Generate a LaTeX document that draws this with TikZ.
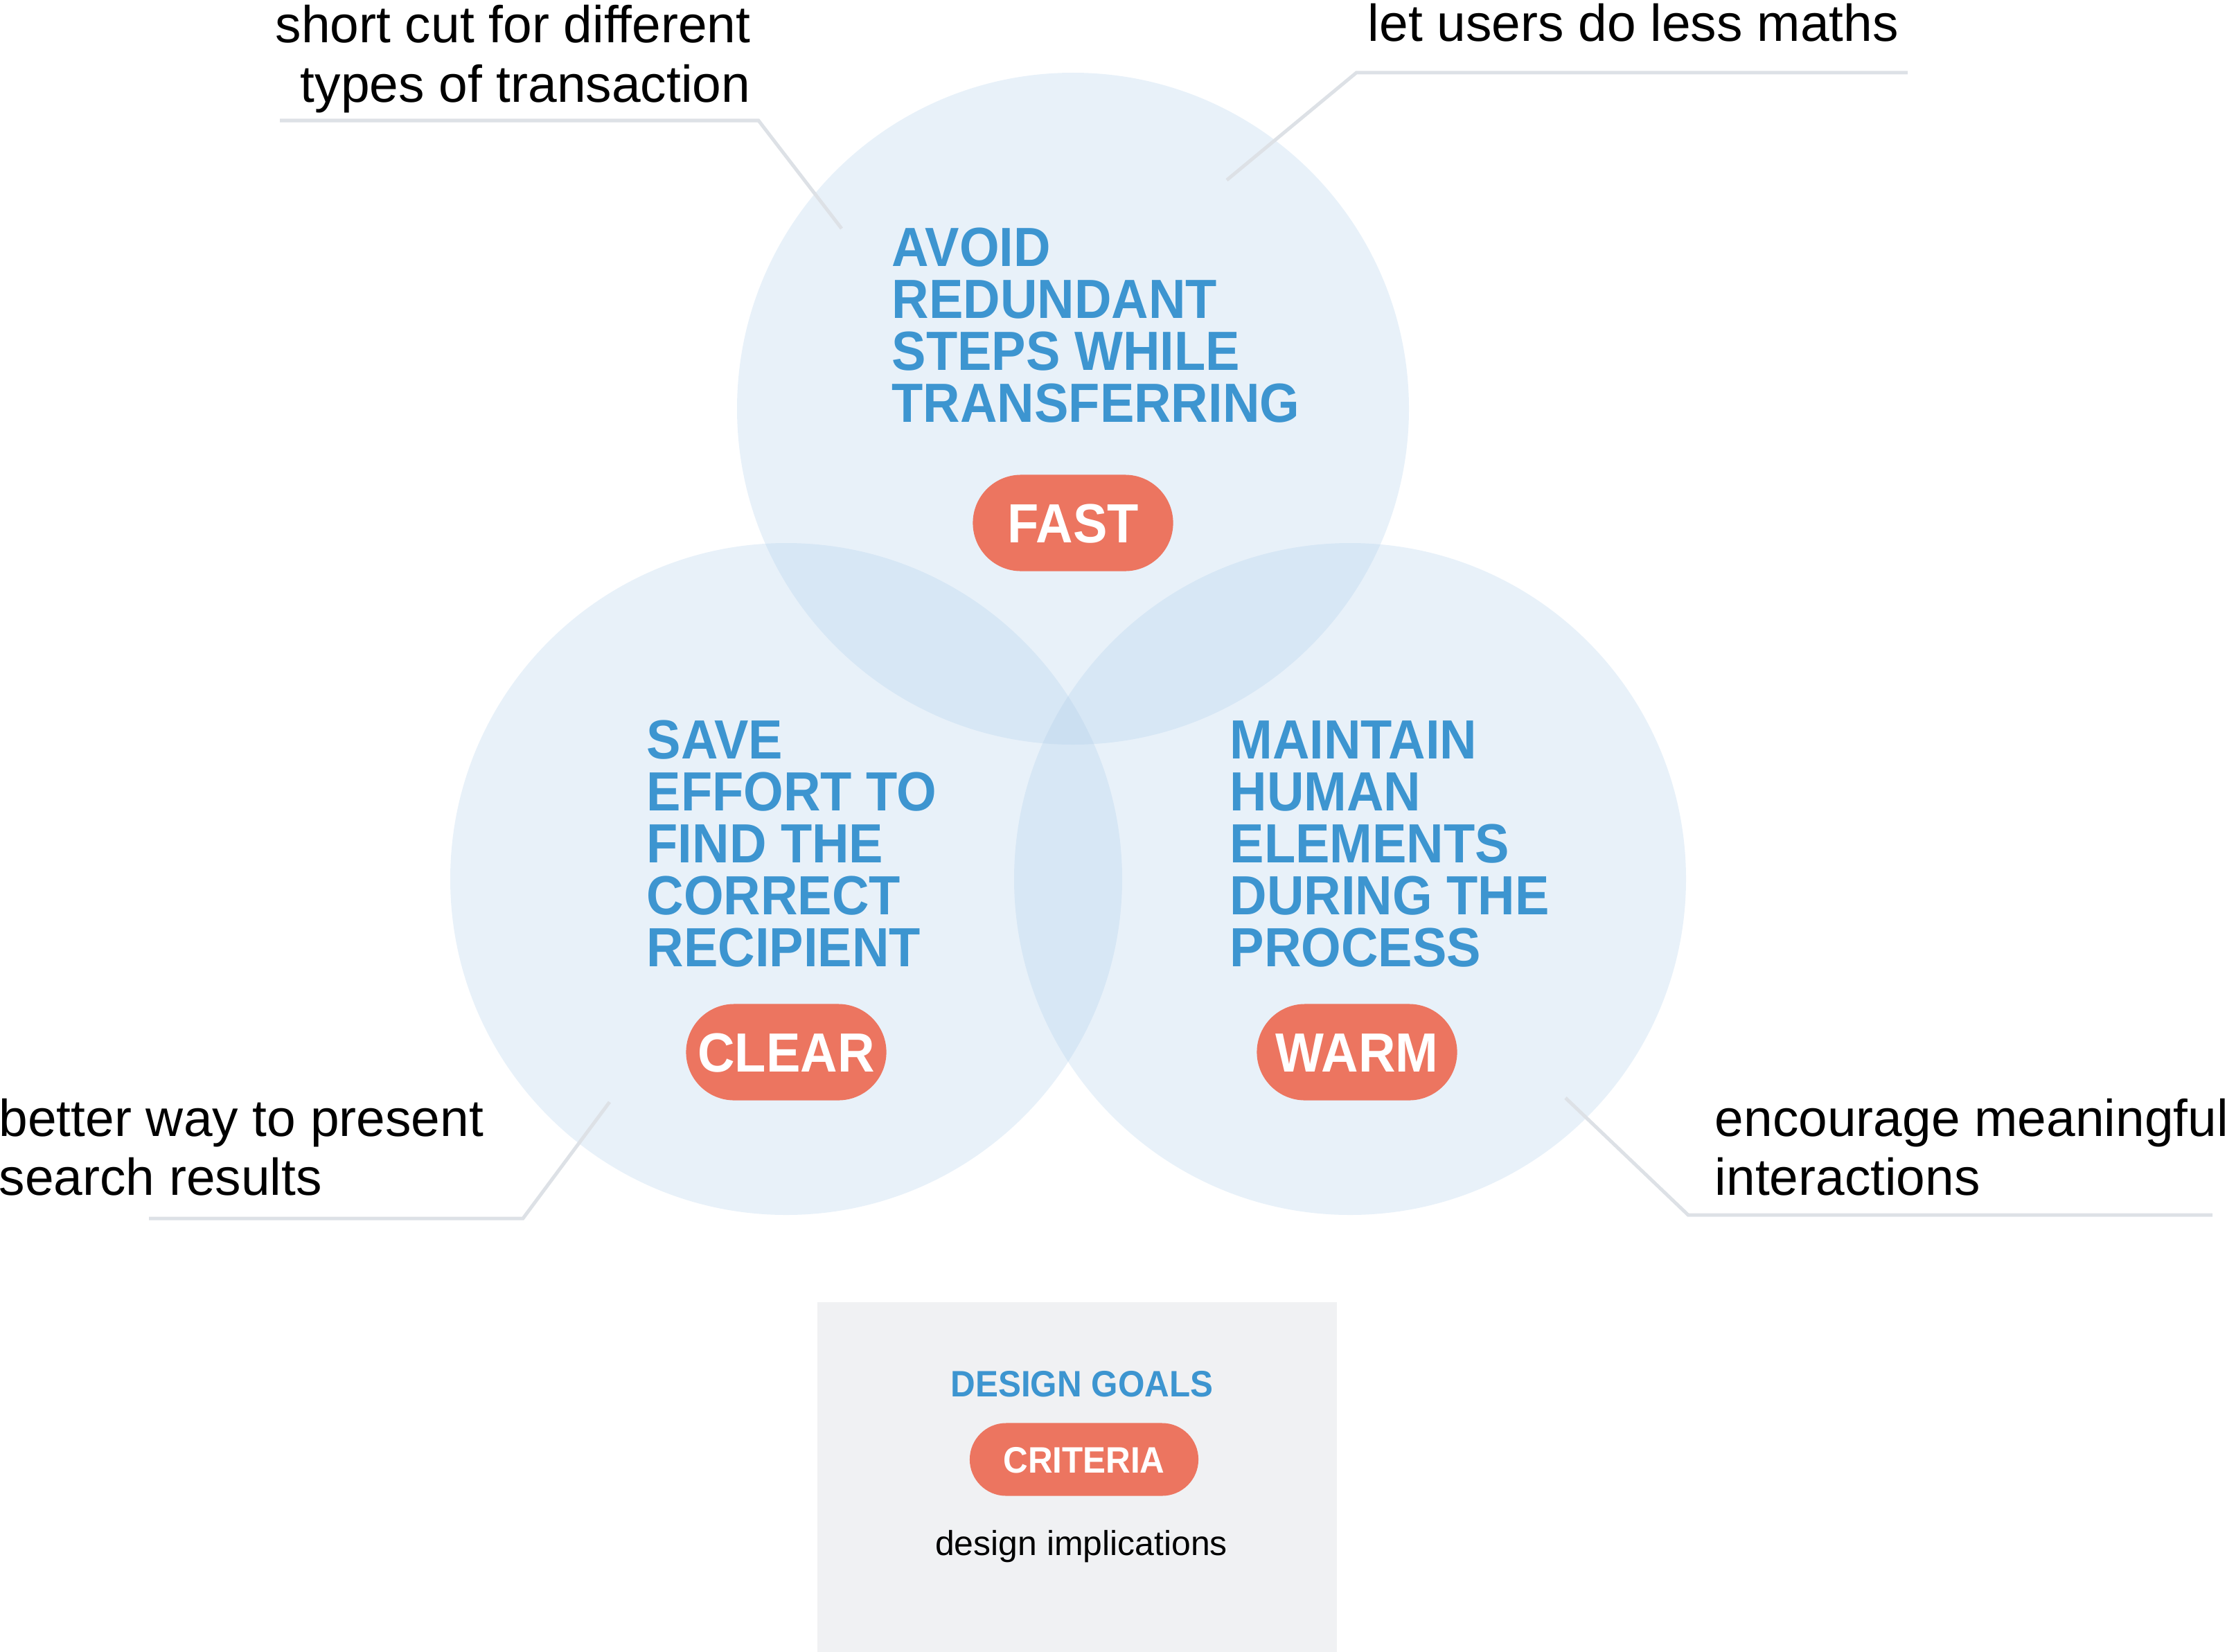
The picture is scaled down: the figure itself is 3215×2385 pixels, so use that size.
\documentclass[tikz,border=0pt]{standalone}
\usepackage{fontspec}
\setmainfont{Liberation Sans}
\newfontfamily\headfont[FakeStretch=0.93]{Liberation Sans}
\definecolor{headblue}{HTML}{3D95D0}
\definecolor{coral}{HTML}{EC7560}
\definecolor{leadgrey}{HTML}{DDE1E6}
\definecolor{legendbg}{HTML}{F0F1F3}
\definecolor{circblue}{RGB}{167,201,232}
\newcommand\lefttext[1]{\vtop{\lineskiplimit=-\maxdimen\lineskip=0pt\halign{##\hfil\cr#1\crcr}}}
\newcommand\righttext[1]{\vtop{\lineskiplimit=-\maxdimen\lineskip=0pt\halign{\hfil##\cr#1\crcr}}}
\tikzset{
  circ/.style={fill=circblue, fill opacity=0.26},
  heading/.style={anchor=base west, inner sep=0pt, text=headblue,
    font=\headfont\bfseries\fontsize{22.65pt}{21.34pt}\selectfont},
  pill/.style={rectangle, rounded corners=0.695cm, minimum width=2.89cm, minimum height=1.39cm,
    fill=coral, text=white, inner sep=0pt, text height=16.2pt, text depth=0pt,
    font=\headfont\bfseries\fontsize{22.65pt}{24pt}\selectfont},
  smallpill/.style={rectangle, rounded corners=0.525cm, minimum width=3.30cm, minimum height=1.05cm,
    fill=coral, text=white, inner sep=0pt, text height=10.8pt, text depth=0pt,
    font=\headfont\bfseries\fontsize{15.1pt}{16pt}\selectfont},
  callout/.style={inner sep=0pt, text=black, font=\fontsize{21.3pt}{24.19pt}\selectfont},
  leader/.style={draw=leadgrey, line width=0.05cm}
}
\begin{document}
\begin{tikzpicture}[x=0.01cm, y=-0.01cm]
\useasboundingbox (0,0) rectangle (3215,2385);
% circles
\fill[circ] (1549,590) circle [radius=485];
\fill[circ] (1135,1269) circle [radius=485];
\fill[circ] (1949,1269) circle [radius=485];
% headings
\node[heading] (htop) at (1287,384) {\lefttext{AVOID\cr REDUNDANT\cr STEPS WHILE\cr TRANSFERRING}};
\node[heading] (hleft) at (933,1095) {\lefttext{SAVE\cr EFFORT TO\cr FIND THE\cr CORRECT\cr RECIPIENT}};
\node[heading] (hright) at (1775,1095) {\lefttext{MAINTAIN\cr HUMAN\cr ELEMENTS\cr DURING THE\cr PROCESS}};
% pills
\node[pill] (fast) at (1549,755) {FAST};
\node[pill] (clear) at (1135,1519) {CLEAR};
\node[pill] (warm) at (1959,1519) {WARM};
% callouts
\node[callout, anchor=base east] (ca) at (1084,62) {\righttext{short cut for different\cr types of transaction}};
\node[callout, anchor=base west] (cb) at (1974,60) {let users do less maths};
\node[callout, anchor=base west] (cc) at (-2,1640) {\lefttext{better way to present\cr search results}};
\node[callout, anchor=base west] (cd) at (2475,1640) {\lefttext{encourage meaningful\cr interactions}};
% leader lines
\coordinate (a0) at (404,174); \coordinate (a1) at (1095,174); \coordinate (a2) at (1215,330);
\coordinate (b0) at (2754,105); \coordinate (b1) at (1958,105); \coordinate (b2) at (1771,260);
\coordinate (c0) at (215,1759); \coordinate (c1) at (755,1759); \coordinate (c2) at (880,1591);
\coordinate (d0) at (3194,1754); \coordinate (d1) at (2437,1754); \coordinate (d2) at (2260,1585);
\draw[leader] (a0) -- (a1) -- (a2);
\draw[leader] (b0) -- (b1) -- (b2);
\draw[leader] (c0) -- (c1) -- (c2);
\draw[leader] (d0) -- (d1) -- (d2);
% legend
\fill[legendbg] (1180,1880) rectangle (1930,2385);
\node[anchor=base, inner sep=0pt, text=headblue, font=\headfont\bfseries\fontsize{15.1pt}{16pt}\selectfont] (lg) at (1562,2016) {DESIGN GOALS};
\node[smallpill] (lc) at (1565,2107) {CRITERIA};
\node[anchor=base, inner sep=0pt, font=\fontsize{14.2pt}{16pt}\selectfont] (li) at (1561,2245) {design implications};
\end{tikzpicture}
\end{document}
